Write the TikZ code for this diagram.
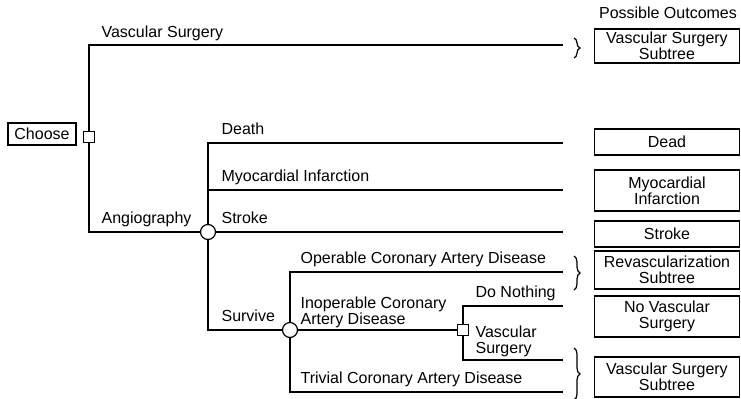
\documentclass[tikz,border=0pt]{standalone}
\usepackage{fontspec}
\setmainfont{Liberation Sans}
\usetikzlibrary{decorations.pathreplacing}

\begin{document}
\begin{tikzpicture}[
    x=0.5pt, y=-0.5pt,
    line width=0.6pt,
    every node/.style={font=\fontsize{8}{8.2}\selectfont},
    decision/.style={draw, rectangle, minimum size=5.3pt, inner sep=0pt, fill=white},
    chance/.style={draw, circle, minimum size=7.5pt, inner sep=0pt, fill=white},
    outcome/.style={draw, minimum width=72.5pt, align=center, inner sep=0pt},
    lbl/.style={anchor=base west, inner sep=0pt},
    bracket/.style={decorate, decoration={brace, amplitude=3pt}} % 右侧花括号
]
\useasboundingbox (0,0) rectangle (741,398);

% ========== decision / chance nodes ==========
\node[draw, minimum width=34pt, minimum height=11pt, inner sep=0pt] (choose) at (42,134) {Choose};
\node[decision] (d1) at (89,137) {};
\node[chance] (c1) at (208,232) {};
\node[chance] (c2) at (290,330) {};
\node[decision] (d2) at (463,330) {};

% branch ends
\foreach \n/\y in {vsend/45, deadend/143, miend/190, strokeend/232,
                   opend/272, dnend/306, vs2end/360, trivend/392} {
    \coordinate (\n) at (563,\y);
}

% ========== branches ==========
\draw (d1) |- (vsend);
\draw (d1) |- (c1);
\draw (c1) |- (deadend);
\draw (c1) |- (miend);
\draw (c1) -- (strokeend);
\draw (c1) |- (c2);
\draw (c2) |- (opend);
\draw (c2) -- (d2);
\draw (c2) |- (trivend);
\draw (d2) |- (dnend);
\draw (d2) |- (vs2end);

% branch labels
\node[lbl] (lvs) at (101,37) {Vascular Surgery};
\node[lbl] (langio) at (101,223.5) {Angiography};
\node[lbl] (ldeath) at (221,134.5) {Death};
\node[lbl] (lmi) at (221,181.5) {Myocardial Infarction};
\node[lbl] (lstroke) at (221,223.5) {Stroke};
\node[lbl] (lsurv) at (221,321.5) {Survive};
\node[lbl] (lop) at (300,263.5) {Operable Coronary Artery Disease};
\node[anchor=north west, inner sep=0pt, align=left] (linop) at (300,296) {Inoperable Coronary\\Artery Disease};
\node[lbl] (ltriv) at (300,383.5) {Trivial Coronary Artery Disease};
\node[lbl] (ldn) at (475,297.5) {Do Nothing};
\node[anchor=north west, inner sep=0pt, align=left] (lvs2) at (475,325) {Vascular\\Surgery};

% ========== possible outcomes ==========
\node[anchor=base, inner sep=0pt] (ptitle) at (668,18) {Possible Outcomes};
\node[outcome, minimum height=17pt] (vssub) at (667,46) {Vascular Surgery\\Subtree};
\node[outcome, minimum height=13pt] (dead) at (667,142) {Dead};
\node[outcome, minimum height=20.5pt] (mi) at (667,190.5) {Myocardial\\Infarction};
\node[outcome, minimum height=13pt] (strk) at (667,234) {Stroke};
\node[outcome, minimum height=19pt] (revasc) at (667,270) {Revascularization\\Subtree};
\node[outcome, minimum height=20.5pt] (novs) at (667,316.5) {No Vascular\\Surgery};
\node[outcome, minimum height=20pt] (vssub2) at (667,377) {Vascular Surgery\\Subtree};

% braces
\draw[bracket] (574,38) -- (574,58);
\draw[bracket] (574,256) -- (574,290);
\draw[bracket] (574,348) -- (574,400);

\end{tikzpicture}
\end{document}
